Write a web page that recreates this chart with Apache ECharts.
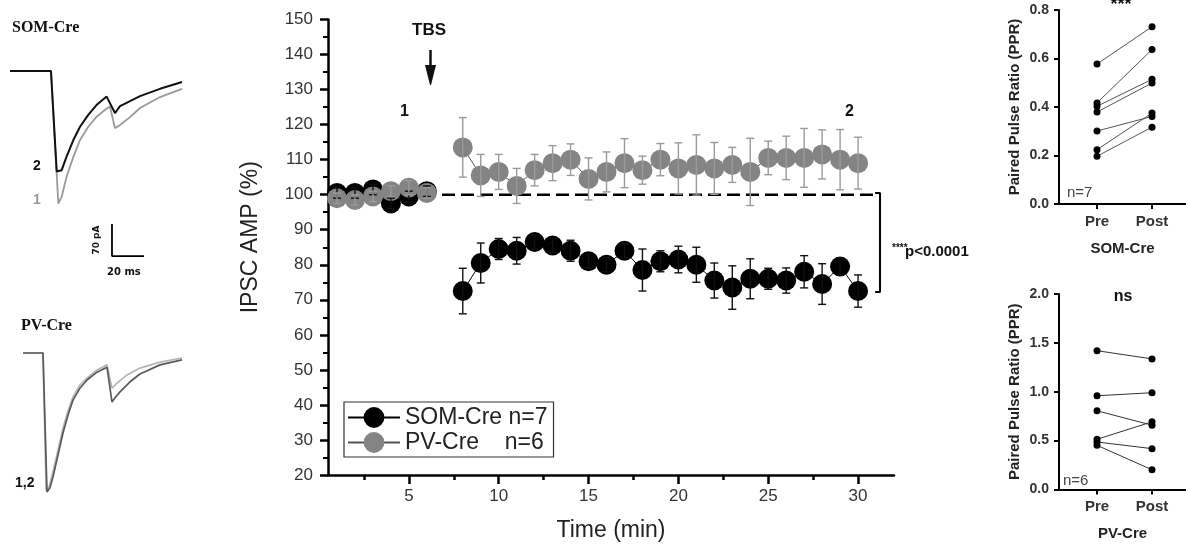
<!DOCTYPE html>
<html><head><meta charset="utf-8">
<script src="https://cdn.jsdelivr.net/npm/echarts@6/dist/echarts.min.js"></script>
<style>html,body{margin:0;padding:0;background:#fff}#c{width:1186px;height:549px}</style>
</head><body><div id="c"></div>
<script>
// ---------------- main time-course data ----------------
const timeMin = [1,2,3,4,5,6,8,9,10,11,12,13,14,15,16,17,18,19,20,21,22,23,24,25,26,27,28,29,30];
const somMean = [100.5,100.5,101.5,97.5,99.5,101,72.5,80.5,84.5,84,86.5,85.5,84,81,80,84,78.5,81,81.5,80,75.5,73.5,76,76,75.5,78,74.5,79.5,72.5];
const somErr  = [1.5,1.5,1.5,1.5,1.5,1.5,6.5,5.7,3,3.8,2,2,3,2,2,2,6,3,3.8,5,5,6.2,5.7,3,3.6,4.6,5.8,2.5,4.6];
const pvMean  = [99,98.5,99.5,101,102,100.5,113.5,105.5,106.5,102.5,107,109,110,104.5,106.5,109,107,110,107.5,108.5,107.5,108.5,106.5,110.5,110.5,110.5,111.5,110,109];
const pvErr   = [1.5,1.5,1.5,1.5,2,1.5,8.5,6,5,5,4.5,5,4.5,6,5.7,7,4,4.6,7.3,8.6,7.4,5,9.6,4.8,6.2,8.4,7,8.6,7.4];
const baselinePct = 100;
const xMajorTicks = [5,10,15,20,25,30];
const xMinorTicks = [2.5,7.5,12.5,17.5,22.5,27.5];
const somName = 'SOM-Cre n=7';
const pvName  = 'PV-Cre    n=6';

// ---------------- paired pulse ratio data ----------------
const pprCats = ['Pre','Post'];
const somPre  = [0.577,0.417,0.403,0.379,0.301,0.224,0.197];
const somPost = [0.731,0.637,0.514,0.499,0.361,0.375,0.317];
const pvPre   = [1.42,0.959,0.805,0.514,0.486,0.452];
const pvPost  = [1.336,0.99,0.658,0.692,0.418,0.202];

// ---------------- example traces (ms, pA) ----------------
const somT2 = [0,25.6,29.2,32.3,35.4,39.6,43.75,48.9,54.2,60.4,65.6,68.75,75,81.25,93.75,107.5];
const somI2 = [0,0,-220,-217,-187,-151,-122,-96,-74,-56,-92,-77,-66,-55,-39,-24];
const somT1 = [0,25.6,30.2,32.3,35.4,39.6,43.75,48.9,54.2,60.4,62.5,65.6,68.75,75,81.25,93.75,107.5];
const somI1 = [0,0,-290,-275,-231,-188,-151,-122,-100,-82,-78,-125,-118,-101,-81,-57,-39];
const pvTa = [0,12.5,15,16.9,18.75,21.9,25,28.1,31.25,35.6,40,46.25,52.5,55.6,57.5,60.6,66.9,73.1,85.6,99.4];
const pvIa = [0,0,-304,-295,-271,-223,-175,-136,-103,-77,-59,-42,-31,-107,-98,-85,-63,-46,-26,-15];
const pvTb = [0,12.5,14.4,16.25,18.75,21.9,25,28.1,31.25,35.6,40,46.25,52.5,55.6,58.75,65,73.1,85.6,99.4];
const pvIb = [0,0,-300,-293,-260,-212,-164,-127,-96,-70,-55,-37,-26,-77,-66,-48,-33,-20,-11];
const scaleMs = 20, scalePA = 70;

// ---------------- build ----------------
function withGaps(t, v){
  const out = [];
  for (let i = 0; i < t.length; i++){
    if (i > 0 && t[i] - t[i-1] > 1) out.push([t[i-1] + 1, '-']);
    out.push([t[i], v[i]]);
  }
  return out;
}
function errSeries(mean, err, color, z){
  return {
    type:'custom', xAxisIndex:0, yAxisIndex:0, z:z, silent:true,
    dimensions:['x','m','e'], encode:{x:0, y:1},
    data: timeMin.map((t,i)=>[t, mean[i], err[i]]),
    renderItem:(params, api)=>{
      const x = api.value(0), m = api.value(1), e = api.value(2);
      const a = api.coord([x, m+e]), b = api.coord([x, m-e]);
      const hw = 4, st = {stroke:color, lineWidth:1.4};
      return {type:'group', children:[
        {type:'line', shape:{x1:a[0],y1:a[1],x2:b[0],y2:b[1]}, style:st},
        {type:'line', shape:{x1:a[0]-hw,y1:a[1],x2:a[0]+hw,y2:a[1]}, style:st},
        {type:'line', shape:{x1:b[0]-hw,y1:b[1],x2:b[0]+hw,y2:b[1]}, style:st}
      ]};
    }
  };
}
const F = 'Liberation Sans, Arial, sans-serif';
const lastT = timeMin[timeMin.length-1];
const lastSom = somMean[somMean.length-1];

const series = [
  {type:'line', xAxisIndex:0, yAxisIndex:0, z:1, silent:true, showSymbol:false,
   data:[[0.5, baselinePct],[lastT+0.9, baselinePct]],
   lineStyle:{color:'#000', width:2.5, type:[13,6]}},
  {type:'line', xAxisIndex:0, yAxisIndex:0, z:1, silent:true, showSymbol:false,
   data:[[lastT+0.95, baselinePct+0.5],[lastT+1.22, baselinePct+0.5],[lastT+1.22, lastSom-0.3],[lastT+0.95, lastSom-0.3]],
   lineStyle:{color:'#000', width:2}},
  {name:somName, type:'line', xAxisIndex:0, yAxisIndex:0, z:3, clip:false,
   data: withGaps(timeMin, somMean), connectNulls:false,
   symbol:'circle', symbolSize:20, itemStyle:{color:'#000'},
   lineStyle:{color:'#000', width:1}},
  {name:pvName, type:'line', xAxisIndex:0, yAxisIndex:0, z:4, clip:false,
   data: withGaps(timeMin, pvMean), connectNulls:false,
   symbol:'circle', symbolSize:20, itemStyle:{color:'#848484'},
   lineStyle:{color:'#555', width:1}},
  errSeries(somMean, somErr, '#111', 5),
  errSeries(pvMean, pvErr, '#9a9a9a', 6),
  // traces
  {type:'line', xAxisIndex:2, yAxisIndex:1, showSymbol:false, silent:true, z:2,
   data: somT1.map((t,i)=>[t, somI1[i]]), lineStyle:{color:'#9a9a9a', width:1.8}},
  {type:'line', xAxisIndex:2, yAxisIndex:1, showSymbol:false, silent:true, z:3,
   data: somT2.map((t,i)=>[t, somI2[i]]), lineStyle:{color:'#111', width:2}},
  {type:'line', xAxisIndex:2, yAxisIndex:1, showSymbol:false, silent:true, z:3,
   data: [[63.75,-335],[63.75,-335-scalePA],[63.75+scaleMs,-335-scalePA]], lineStyle:{color:'#000', width:1.8}},
  {type:'line', xAxisIndex:3, yAxisIndex:2, showSymbol:false, silent:true, z:2,
   data: pvTb.map((t,i)=>[t, pvIb[i]]), lineStyle:{color:'#b5b5b5', width:1.7}},
  {type:'line', xAxisIndex:3, yAxisIndex:2, showSymbol:false, silent:true, z:3,
   data: pvTa.map((t,i)=>[t, pvIa[i]]), lineStyle:{color:'#5a5a5a', width:1.7}}
];
somPre.forEach((p,i)=>series.push({type:'line', xAxisIndex:4, yAxisIndex:3, silent:true, clip:false,
  data:[[1,p],[2,somPost[i]]], symbol:'circle', symbolSize:7, itemStyle:{color:'#000'}, lineStyle:{color:'#555', width:1}}));
pvPre.forEach((p,i)=>series.push({type:'line', xAxisIndex:5, yAxisIndex:4, silent:true, clip:false,
  data:[[1,p],[2,pvPost[i]]], symbol:'circle', symbolSize:7, itemStyle:{color:'#000'}, lineStyle:{color:'#333', width:1}}));

const hidden = {show:false};
function pprX(grid, name){
  return {type:'value', gridIndex:grid, min:0.309, max:2.618,
    name:name, nameLocation:'middle', nameGap:37,
    nameTextStyle:{fontFamily:F, fontWeight:'bold', fontSize:15, color:'#222'},
    axisLine:{lineStyle:{color:'#000', width:2}},
    axisTick:{customValues:[1,2], length:5, lineStyle:{color:'#000', width:2}},
    axisLabel:{customValues:[1,2], formatter:v=>pprCats[Math.round(v)-1], fontFamily:F, fontWeight:'bold', fontSize:15, color:'#333', margin:10},
    splitLine:hidden};
}
function pprY(grid, max, interval){
  return {type:'value', gridIndex:grid, min:0, max:max, interval:interval,
    name:'Paired Pulse Ratio (PPR)', nameLocation:'middle', nameGap:37,
    nameTextStyle:{fontFamily:F, fontWeight:'bold', fontSize:15, color:'#222'},
    axisLine:{show:true, lineStyle:{color:'#000', width:2}},
    axisTick:{show:true, length:5, lineStyle:{color:'#000', width:2}},
    axisLabel:{formatter:v=>v.toFixed(1), fontFamily:F, fontWeight:'bold', fontSize:14, color:'#333', margin:10},
    splitLine:hidden};
}

const option = {
  animation:false,
  backgroundColor:'#fff',
  grid:[
    {left:328, top:19.5, width:566, height:455.5},
    {left:10, top:48.15, width:192, height:228.5},
    {left:23, top:330.15, width:192, height:182.8},
    {left:1059, top:10, width:127, height:194},
    {left:1059, top:294, width:127, height:195.5}
  ],
  xAxis:[
    {type:'value', gridIndex:0, min:0.5, max:32, position:'bottom',
     name:'Time (min)', nameLocation:'middle', nameGap:44,
     nameTextStyle:{fontFamily:F, fontSize:23, color:'#222'},
     axisLine:{lineStyle:{color:'#000', width:2.5}},
     axisTick:{customValues:xMajorTicks, length:9, lineStyle:{color:'#000', width:2.5}},
     axisLabel:{customValues:xMajorTicks, fontFamily:F, fontSize:17, color:'#333', margin:13},
     splitLine:hidden},
    {type:'value', gridIndex:0, min:0.5, max:32, position:'bottom',
     axisLine:hidden, axisLabel:hidden, splitLine:hidden,
     axisTick:{customValues:xMinorTicks, length:5, lineStyle:{color:'#000', width:2.5}}},
    {type:'value', gridIndex:1, min:0, max:120, show:false},
    {type:'value', gridIndex:2, min:0, max:120, show:false},
    pprX(3, 'SOM-Cre'),
    pprX(4, 'PV-Cre')
  ],
  yAxis:[
    {type:'value', gridIndex:0, min:20, max:150, interval:10,
     name:'IPSC AMP (%)', nameLocation:'middle', nameGap:66,
     nameTextStyle:{fontFamily:F, fontSize:23, color:'#222', padding:[0,0,0,20]},
     axisLine:{show:true, lineStyle:{color:'#000', width:2.5}},
     axisTick:{show:true, length:8, lineStyle:{color:'#000', width:2.5}},
     minorTick:{show:true, splitNumber:2, length:5, lineStyle:{color:'#000', width:2}},
     axisLabel:{fontFamily:F, fontSize:17, color:'#333', margin:15},
     splitLine:hidden},
    {type:'value', gridIndex:1, min:-450, max:50, show:false},
    {type:'value', gridIndex:2, min:-350, max:50, show:false},
    pprY(3, 0.8, 0.2),
    pprY(4, 2, 0.5)
  ],
  legend:{
    data:[somName, pvName], orient:'vertical', left:344, top:402,
    padding:[4,6,3,3], itemGap:2, itemWidth:52, itemHeight:26,
    borderColor:'#333', borderWidth:1.2, backgroundColor:'#fff',
    textStyle:{fontFamily:F, fontSize:23, color:'#222'},
    selectedMode:false
  },
  series:series,
  graphic:[
    {type:'text', left:412, top:22, style:{text:'TBS', font:'bold 17px '+F, fill:'#111'}},
    {type:'line', shape:{x1:430.5,y1:50,x2:430.5,y2:68}, style:{stroke:'#111', lineWidth:2.5}},
    {type:'polygon', shape:{points:[[425,65],[436,65],[431,85],[430,85]]}, style:{fill:'#111'}},
    {type:'text', left:400, top:104, style:{text:'1', font:'bold 16px '+F, fill:'#111'}},
    {type:'text', left:845, top:104, style:{text:'2', font:'bold 16px '+F, fill:'#111'}},
    {type:'text', left:892, top:243, style:{text:'****', font:'bold 10px '+F, fill:'#111'}},
    {type:'text', left:905, top:244, style:{text:'p<0.0001', font:'bold 15px '+F, fill:'#111'}},
    // traces annotations
    {type:'text', left:12, top:20, style:{text:'SOM-Cre', font:'bold 16px Liberation Serif, Times New Roman, serif', fill:'#111'}},
    {type:'text', left:33, top:159, style:{text:'2', font:'bold 14px '+F, fill:'#111'}},
    {type:'text', left:33, top:193, style:{text:'1', font:'bold 14px '+F, fill:'#999'}},
    {type:'text', x:97, y:240, rotation:Math.PI/2, style:{text:'70 pA', font:'bold 9px DejaVu Sans, sans-serif', fill:'#111', align:'center', verticalAlign:'middle'}},
    {type:'text', left:107, top:267, style:{text:'20 ms', font:'bold 10px DejaVu Sans, sans-serif', fill:'#111'}},
    {type:'text', left:21, top:318, style:{text:'PV-Cre', font:'bold 16px Liberation Serif, Times New Roman, serif', fill:'#111'}},
    {type:'text', left:15, top:476, style:{text:'1,2', font:'bold 14px '+F, fill:'#111'}},
    // PPR annotations
    {type:'text', x:1121, y:-4, style:{text:'***', font:'bold 18px '+F, fill:'#111', align:'center'}},
    {type:'text', x:1123, y:289, style:{text:'ns', font:'bold 16px '+F, fill:'#111', align:'center'}},
    {type:'text', left:1067, top:185, style:{text:'n=7', font:'15px '+F, fill:'#444'}},
    {type:'text', left:1063, top:473, style:{text:'n=6', font:'15px '+F, fill:'#444'}}
  ]
};
const chart = echarts.init(document.getElementById('c'), null, {renderer:'canvas'});
chart.setOption(option);
</script>
</body></html>
